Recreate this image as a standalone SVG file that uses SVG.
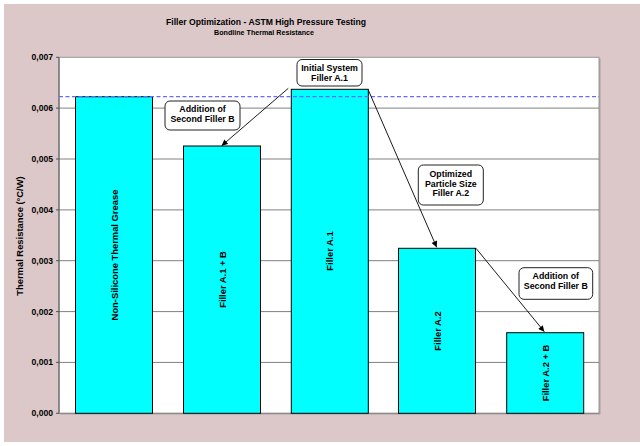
<svg xmlns="http://www.w3.org/2000/svg" width="640" height="446" viewBox="0 0 640 446">
<defs>
<style>
text{font-family:"Liberation Sans",Arial,sans-serif;font-weight:bold;fill:#000}
.tick{font-size:8.6px;text-anchor:end}
.grid{stroke:#808080;stroke-width:1}
.bar{fill:#00ffff;stroke:#000;stroke-width:1}
.blab{font-size:9.4px;text-anchor:middle}
.call rect{fill:#fff;stroke:#222;stroke-width:1}
.call text{font-size:8.8px;text-anchor:middle}
.conn{stroke:#000;stroke-width:0.9;fill:none;marker-end:url(#ah)}
</style>
<marker id="ah" viewBox="0 0 10 10" refX="10" refY="5" markerWidth="7" markerHeight="6" markerUnits="userSpaceOnUse" orient="auto">
<path d="M0,0 L10,5 L0,10 z" fill="#000"/>
</marker>
</defs>
<rect x="0" y="0" width="640" height="446" fill="#ffffff"/>
<rect x="4" y="4" width="636" height="438" fill="#dcc8c8"/>
<text x="266" y="25" font-size="9.4" text-anchor="middle" textLength="200" lengthAdjust="spacingAndGlyphs">Filler Optimization - ASTM High Pressure Testing</text>
<text x="264" y="35" font-size="8" text-anchor="middle" textLength="100" lengthAdjust="spacingAndGlyphs">Bondline Thermal Resistance</text>
<g id="plot">
<rect x="60.5" y="58.5" width="540" height="356" fill="#a8a0a0"/>
<rect x="59" y="57.3" width="540" height="356" fill="#ffffff" stroke="#999" stroke-width="1"/>
<line class="grid" x1="59" y1="362.4" x2="599" y2="362.4"/>
<line class="grid" x1="59" y1="311.6" x2="599" y2="311.6"/>
<line class="grid" x1="59" y1="260.7" x2="599" y2="260.7"/>
<line class="grid" x1="59" y1="209.9" x2="599" y2="209.9"/>
<line class="grid" x1="59" y1="159.0" x2="599" y2="159.0"/>
<line class="grid" x1="59" y1="108.1" x2="599" y2="108.1"/>
<line x1="59" y1="57.3" x2="59" y2="413.3" stroke="#555" stroke-width="1"/>
<line x1="59" y1="413.3" x2="599" y2="413.3" stroke="#888" stroke-width="1"/>
<g stroke="#555" stroke-width="1">
<line x1="56" y1="413.3" x2="59" y2="413.3"/>
<line x1="56" y1="362.4" x2="59" y2="362.4"/>
<line x1="56" y1="311.6" x2="59" y2="311.6"/>
<line x1="56" y1="260.7" x2="59" y2="260.7"/>
<line x1="56" y1="209.9" x2="59" y2="209.9"/>
<line x1="56" y1="159.0" x2="59" y2="159.0"/>
<line x1="56" y1="108.1" x2="59" y2="108.1"/>
<line x1="56" y1="57.3" x2="59" y2="57.3"/>
</g>
<text class="tick" x="53" y="416.3">0,000</text>
<text class="tick" x="53" y="365.4">0,001</text>
<text class="tick" x="53" y="314.6">0,002</text>
<text class="tick" x="53" y="263.7">0,003</text>
<text class="tick" x="53" y="212.9">0,004</text>
<text class="tick" x="53" y="162.0">0,005</text>
<text class="tick" x="53" y="111.1">0,006</text>
<text class="tick" x="53" y="60.3">0,007</text>
<text transform="translate(23,236) rotate(-90)" font-size="9.4" text-anchor="middle">Thermal Resistance (°C/W)</text>
</g>
<g id="bar1"><rect class="bar" x="75.5" y="96.7" width="77" height="316.6"/><text class="blab" transform="translate(117.5,255) rotate(-90)">Non-Silicone Thermal Grease</text></g>
<g id="bar2"><rect class="bar" x="183.5" y="146" width="77" height="267.3"/><text class="blab" transform="translate(225.5,279.5) rotate(-90)">Filler A.1 + B</text></g>
<g id="bar3"><rect class="bar" x="291.3" y="89.3" width="77" height="324"/><text class="blab" transform="translate(333.3,251) rotate(-90)">Filler A.1</text></g>
<g id="bar4"><rect class="bar" x="398.5" y="248.3" width="77" height="165"/><text class="blab" transform="translate(440.5,331) rotate(-90)">Filler A.2</text></g>
<g id="bar5"><rect class="bar" x="506.7" y="332.7" width="77" height="80.6"/><text class="blab" transform="translate(548.7,373) rotate(-90)">Filler A.2 + B</text></g>
<line x1="59" y1="96.7" x2="599" y2="96.7" stroke="#6a6aff" stroke-width="1.3" stroke-dasharray="4,2.5"/>
<g id="connectors">
<line class="conn" x1="288.3" y1="88.3" x2="221.7" y2="145.7"/>
<line class="conn" x1="368.3" y1="90" x2="436.7" y2="247.3"/>
<line class="conn" x1="476" y1="248.3" x2="544.3" y2="331.7"/>
</g>
<g id="callout1" class="call"><rect x="297" y="59.5" width="65" height="26.5" rx="5"/><text x="329.5" y="71">Initial System</text><text x="329.5" y="80.7">Filler A.1</text></g>
<g id="callout2" class="call"><rect x="165" y="101" width="75" height="29" rx="5"/><text x="202.5" y="112.3">Addition of</text><text x="202.5" y="121.7">Second Filler B</text></g>
<g id="callout3" class="call"><rect x="418.3" y="165" width="65" height="40" rx="5"/><text x="450.8" y="176.7">Optimized</text><text x="450.8" y="186.5">Particle Size</text><text x="450.8" y="196">Filler A.2</text></g>
<g id="callout4" class="call"><rect x="519" y="267.7" width="73.7" height="31.6" rx="5"/><text x="555.8" y="279.3">Addition of</text><text x="555.8" y="289">Second Filler B</text></g>
</svg>
